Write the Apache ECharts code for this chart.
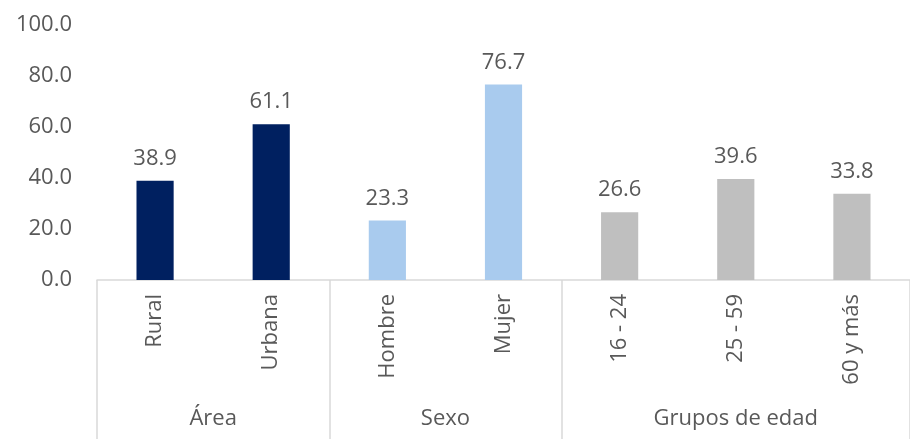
<!DOCTYPE html>
<html>
<head>
<meta charset="utf-8">
<script src="https://cdn.jsdelivr.net/npm/echarts@6/dist/echarts.min.js"></script>
<style>
    html, body { margin: 0; padding: 0; background: #fff; }
    #chart { width: 910px; height: 439px; }
</style>
</head>
<body>
<div id="chart"></div>
<script>
// categorias y valores
const categorias = ['Rural', 'Urbana', 'Hombre', 'Mujer', '16 - 24', '25 - 59', '60 y más'];
const valores = [38.9, 61.1, 23.3, 76.7, 26.6, 39.6, 33.8];
const grupos = ['Área', 'Sexo', 'Grupos de edad'];
const tamanoGrupo = [2, 2, 3];
const coloresGrupo = ['#002060', '#A9CBEE', '#BFBFBF'];
const yTicks = [0, 20, 40, 60, 80, 100];

// limites y centros de cada grupo
const limites = [0];
const centros = [];
tamanoGrupo.forEach(function (n) {
    const ini = limites[limites.length - 1];
    centros.push(ini + n / 2);
    limites.push(ini + n);
});

const colorBarra = [];
tamanoGrupo.forEach(function (n, g) {
    for (let i = 0; i < n; i++) colorBarra.push(coloresGrupo[g]);
});

const fuente = 'Open Sans';
const gris = '#595959';
const linea = '#D9D9D9';
const tam = 22;

var myChart = echarts.init(document.getElementById('chart'));
myChart.setOption({
    animation: false,
    grid: {
        left: 97,
        right: -11,
        top: 25,
        bottom: 159
    },
    xAxis: [
        {
            type: 'category',
            data: categorias,
            axisLine: { lineStyle: { color: linea, width: 1.5 } },
            axisTick: { show: false },
            axisLabel: {
                rotate: 90,
                margin: 14,
                color: gris,
                fontFamily: fuente,
                fontSize: tam
            }
        },
        {
            type: 'value',
            position: 'bottom',
            min: 0,
            max: categorias.length,
            splitLine: { show: false },
            axisLine: { show: false },
            axisTick: {
                show: true,
                customValues: limites,
                length: 160,
                lineStyle: { color: linea, width: 1.5 }
            },
            axisLabel: {
                customValues: centros,
                margin: 128,
                color: gris,
                fontFamily: fuente,
                fontSize: tam,
                formatter: function (v) {
                    return grupos[centros.indexOf(v)];
                }
            }
        }
    ],
    yAxis: {
        type: 'value',
        min: 0,
        max: 100,
        interval: 20,
        splitLine: { show: false },
        axisLine: { show: false },
        axisTick: { show: false },
        axisLabel: {
            margin: 25,
            color: gris,
            fontFamily: fuente,
            fontSize: tam,
            formatter: function (v) { return v.toFixed(1); }
        }
    },
    series: [
        {
            type: 'bar',
            xAxisIndex: 0,
            barWidth: '32%',
            data: valores.map(function (v, i) {
                return { value: v, itemStyle: { color: colorBarra[i] } };
            }),
            label: {
                show: true,
                position: 'top',
                distance: 11,
                color: gris,
                fontFamily: fuente,
                fontSize: tam,
                formatter: function (p) { return p.value.toFixed(1); }
            }
        }
    ]
});
</script>
</body>
</html>
